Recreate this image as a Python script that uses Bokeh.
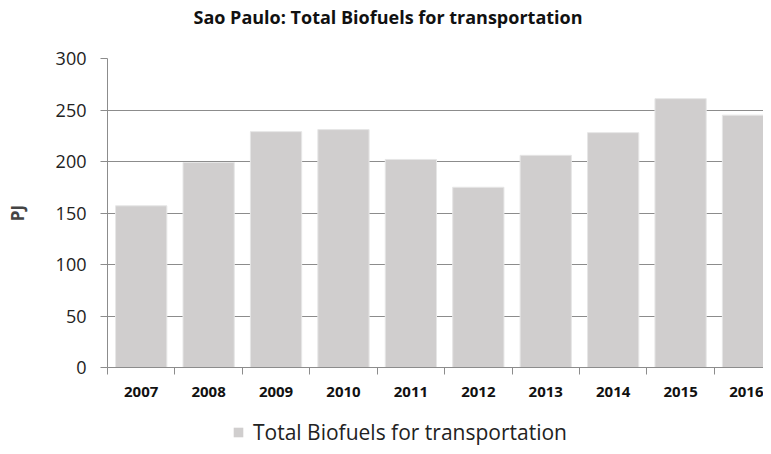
from bokeh.plotting import figure
from bokeh.layouts import column
from bokeh.models import (ColumnDataSource, Range1d, FixedTicker, Legend, LegendItem)
from bokeh.embed import file_html
from bokeh.resources import INLINE

years = ["2007", "2008", "2009", "2010", "2011", "2012", "2013", "2014", "2015", "2016"]
biofuels = [157, 199, 229, 231, 202, 175, 206, 228, 261, 245]
title_text = "Sao Paulo: Total Biofuels for transportation"
series_name = "Total Biofuels for transportation"
y_label = "PJ"

BAR = "#D0CECE"
GRAY = "#8C8C8C"
xs = [i + 0.5 for i in range(len(years))]
src = ColumnDataSource(dict(x=xs, top=biofuels, year=years))

x_range = Range1d(0, 9.73)

# title strip (frame aligned with the chart's frame)
p0 = figure(width=763, height=40, output_backend="svg", toolbar_location=None,
            x_range=x_range, y_range=Range1d(0, 1),
            min_border_left=107, min_border_right=0, min_border_top=0, min_border_bottom=0,
            x_axis_type=None, y_axis_type=None)
p0.outline_line_color = None
p0.grid.grid_line_color = None
p0.title.text = title_text
p0.title.align = "left"
p0.title.offset = 86
p0.title.standoff = 7
p0.title.vertical_align = "middle"
p0.title.text_font = "Open Sans"
p0.title.text_font_style = "bold"
p0.title.text_font_size = "18px"
p0.title.text_color = "#111111"

p = figure(width=763, height=370, output_backend="svg", toolbar_location=None,
           x_range=x_range, y_range=Range1d(0, 300),
           min_border_left=107, min_border_right=0, min_border_top=18, min_border_bottom=43)
p.outline_line_color = None

bars = p.vbar(x="x", top="top", width=0.76, source=src, fill_color=BAR,
              line_color="#E6E6E6", line_width=1)

p.xgrid.grid_line_color = None
p.ygrid.grid_line_color = GRAY
p.ygrid.ticker = FixedTicker(ticks=[50, 100, 150, 200, 250, 300])

p.yaxis.ticker = FixedTicker(ticks=[0, 50, 100, 150, 200, 250, 300])
p.yaxis.axis_line_color = GRAY
p.yaxis.major_tick_line_color = GRAY
p.yaxis.major_tick_out = 7
p.yaxis.major_tick_in = 0
p.yaxis.minor_tick_line_color = None
p.yaxis.major_label_text_font = "Open Sans"
p.yaxis.major_label_text_font_size = "18px"
p.yaxis.major_label_text_color = "#222222"
p.yaxis.major_label_standoff = 14
p.yaxis.axis_label = y_label
p.yaxis.axis_label_text_font = "Open Sans"
p.yaxis.axis_label_text_font_style = "bold"
p.yaxis.axis_label_text_font_size = "17px"
p.yaxis.axis_label_standoff = 24

p.xaxis.ticker = FixedTicker(ticks=xs, minor_ticks=[float(i) for i in range(len(years) + 1)])
p.xaxis.major_label_overrides = {x: y for x, y in zip(xs, years)}
p.xaxis.axis_line_color = GRAY
p.xaxis.major_tick_line_color = None
p.xaxis.major_tick_out = 0
p.xaxis.major_tick_in = 0
p.xaxis.minor_tick_line_color = GRAY
p.xaxis.minor_tick_out = 7
p.xaxis.minor_tick_in = 0
p.xaxis.major_label_text_font = "Open Sans"
p.xaxis.major_label_text_font_style = "bold"
p.xaxis.major_label_text_font_size = "15px"
p.xaxis.major_label_text_color = "#111111"
p.xaxis.major_label_standoff = 12

# legend strip below the chart (its frame is aligned with the chart's frame)
p2 = figure(width=763, height=36, output_backend="svg", toolbar_location=None,
            x_range=x_range, y_range=Range1d(1000, 1001),
            min_border_left=107, min_border_right=0, min_border_top=0, min_border_bottom=0,
            x_axis_type=None, y_axis_type=None)
p2.outline_line_color = None
p2.grid.grid_line_color = None
swatch = p2.vbar(x="x", top="top", width=0.76, source=src, fill_color=BAR, line_color=None)
legend = Legend(items=[LegendItem(label=series_name, renderers=[swatch])],
                location=(125, 0), orientation="horizontal",
                border_line_color=None, background_fill_alpha=0,
                padding=0, margin=0, glyph_width=12, glyph_height=12,
                label_text_font="Open Sans", label_text_font_size="21px",
                label_text_color="#222222", label_standoff=9)
p2.add_layout(legend, "center")

open("out.html", "w").write(file_html(column(p0, p, p2, spacing=0), INLINE))
